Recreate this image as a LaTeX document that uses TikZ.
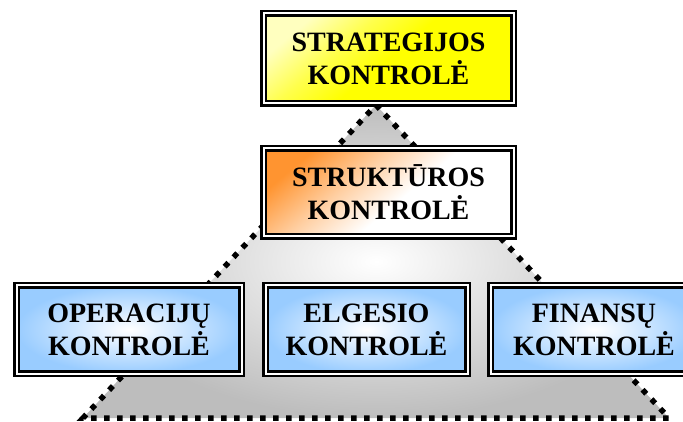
\documentclass[tikz,border=0pt]{standalone}
\usepackage{fontspec}
\setmainfont{Liberation Serif}
\usetikzlibrary{backgrounds}
\definecolor{strategy}{HTML}{FFFF00}
\definecolor{structure}{HTML}{FF9430}
\definecolor{control}{HTML}{99CCFF}
\definecolor{pyramid}{HTML}{BDBDBD}

% corner glows for the two upper boxes
\pgfdeclareverticalshading{strategyglow}{100bp}{color(0bp)=(strategy); color(50bp)=(strategy);
  color(62bp)=(strategy!70); color(75bp)=(strategy!25); color(100bp)=(strategy!25)}
\pgfdeclareverticalshading{structureglow}{100bp}{color(0bp)=(white); color(46bp)=(white);
  color(60bp)=(structure!45); color(75bp)=(structure); color(100bp)=(structure)}

\tikzset{
  levelbox/.style={draw=black, double=white, double distance=2pt, line width=2.2pt,
    align=center, inner sep=0pt, font=\fontsize{28}{33}\selectfont\bfseries},
  controlbox/.style={levelbox, inner color=white, outer color=control,
    minimum height=88pt},
}

\begin{document}
\begin{tikzpicture}[x=1pt, y=-1pt]
      \useasboundingbox (0,0) rectangle (683,422);
      \clip (0,0) rectangle (683,422);

      % Corners of the pyramid
      \coordinate (apex) at (376,105);
      \coordinate (baseL) at (83,418);
      \coordinate (baseR) at (669,418);

      % Shaded pyramid with dotted outline
      \shade[inner color=white, outer color=pyramid] (apex) -- (baseR) -- (baseL) -- cycle;
      \draw[line width=5.5pt, dash pattern=on 5.5pt off 7.5pt] (apex) -- (baseR) -- (baseL) -- cycle;

      % Top level
      \node[levelbox, minimum width=250pt, minimum height=90pt,
        shade, shading=strategyglow, shading angle=40]
        (strategic) at (388.5,58.5) {STRATEGIJOS\\KONTROLĖ};

      % Middle level
      \node[levelbox, minimum width=250pt, minimum height=88pt,
        shade, shading=structureglow, shading angle=40]
        (structural) at (388.5,192.5) {STRUKTŪROS\\KONTROLĖ};

      % Bottom level
      \node[controlbox, minimum width=225pt] (operational) at (129,329.5) {OPERACIJŲ\\KONTROLĖ};
      \node[controlbox, minimum width=202pt] (behavioural) at (366.5,329.5) {ELGESIO\\KONTROLĖ};
      \node[controlbox, minimum width=207pt] (financial) at (594,329.5) {FINANSŲ\\KONTROLĖ};
    \end{tikzpicture}
\end{document}
